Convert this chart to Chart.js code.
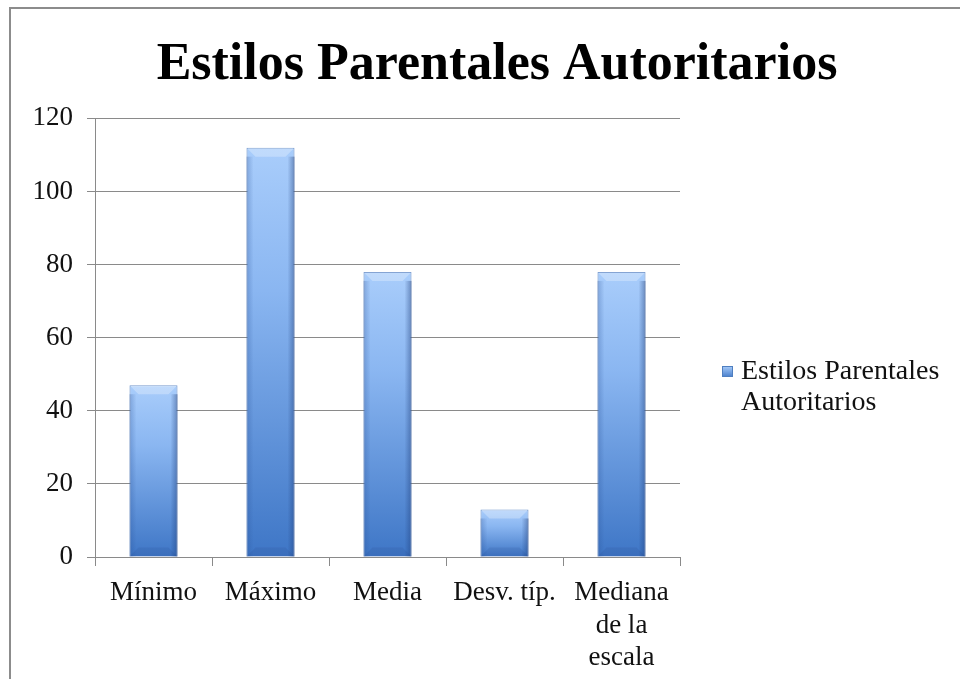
<!DOCTYPE html>
<html>
<head>
<meta charset="utf-8">
<script src="https://cdn.jsdelivr.net/npm/chart.js@4/dist/chart.umd.min.js"></script>
<style>
  html, body { margin: 0; padding: 0; background: #fff; overflow: hidden; }
  #frame { position: absolute; left: 9px; top: 7px; width: 1100px; height: 800px; border: 2px solid #8c8c8c; }
  #wrap { position: absolute; left: 0; top: 0; width: 960px; height: 679px; }
</style>
</head>
<body>
<div id="frame"></div>
<div id="wrap"><canvas id="graph" width="960" height="679"></canvas></div>
<script>
const categories = ['Mínimo', 'Máximo', 'Media', 'Desv. típ.', ['Mediana', 'de la', 'escala']];
const seriesName = 'Estilos Parentales Autoritarios';
const values = [47, 112, 78, 13, 78];
const yMin = 0, yMax = 120, yStep = 20;

const serif = "'Liberation Serif', 'DejaVu Serif', serif";
const gridColor = '#8a8a8a';

// vertical gradient for each bar, light on top, dark at the base
function barFill(ctx) {
    const chart = ctx.chart;
    if (!chart.chartArea || !chart.scales.y) return '#6f9fe0';
    const y = chart.scales.y;
    const top = y.getPixelForValue(values[ctx.dataIndex]);
    const bottom = y.getPixelForValue(0);
    const g = chart.ctx.createLinearGradient(0, top, 0, bottom);
    g.addColorStop(0, '#a9cdfb');
    g.addColorStop(0.35, '#8ab6f1');
    g.addColorStop(1, '#3e76c6');
    return g;
}

// bevel look: light top facet and darker sides
const bevel = {
    id: 'bevel',
    afterDatasetsDraw(chart) {
        const c = chart.ctx;
        chart.getDatasetMeta(0).data.forEach(bar => {
            const l = bar.x - bar.width / 2, r = bar.x + bar.width / 2;
            const t = bar.y, b = bar.base;
            const d = Math.min(9, (b - t) / 3);
            c.save();
            c.fillStyle = 'rgba(255,255,255,0.28)';
            c.beginPath();
            c.moveTo(l, t); c.lineTo(r, t); c.lineTo(r - d, t + d); c.lineTo(l + d, t + d);
            c.closePath(); c.fill();
            let gl = c.createLinearGradient(l, 0, l + 7, 0);
            gl.addColorStop(0, 'rgba(40,80,150,0.3)');
            gl.addColorStop(1, 'rgba(40,80,150,0)');
            c.fillStyle = gl;
            c.fillRect(l, t + d, 7, b - t - d);
            let gr = c.createLinearGradient(r - 7, 0, r, 0);
            gr.addColorStop(0, 'rgba(30,60,120,0)');
            gr.addColorStop(1, 'rgba(30,60,120,0.45)');
            c.fillStyle = gr;
            c.fillRect(r - 7, t + d, 7, b - t - d);
            c.fillStyle = 'rgba(30,60,120,0.12)';
            c.beginPath();
            c.moveTo(l, b); c.lineTo(r, b); c.lineTo(r - d, b - d); c.lineTo(l + d, b - d);
            c.closePath(); c.fill();
            c.restore();
        });
    }
};

// legend on the right, wrapped on two lines
const sideLegend = {
    id: 'sideLegend',
    afterDraw(chart) {
        const c = chart.ctx;
        const area = chart.chartArea;
        const words = chart.data.datasets[0].label.split(' ');
        const lines = [words.slice(0, 2).join(' '), words.slice(2).join(' ')];
        const x = area.right + 42;
        const y = area.bottom - 185;
        c.save();
        const g = c.createLinearGradient(0, y - 6, 0, y + 6);
        g.addColorStop(0, '#a9cdfb');
        g.addColorStop(1, '#3e76c6');
        c.fillStyle = g;
        c.fillRect(x, y - 6, 11, 11);
        c.strokeStyle = '#4f7fc0';
        c.lineWidth = 1;
        c.strokeRect(x + 0.5, y - 5.5, 10, 10);
        c.fillStyle = '#111';
        c.font = '28px ' + serif;
        c.textBaseline = 'middle';
        lines.forEach((s, i) => c.fillText(s, x + 19, y + i * 31));
        c.restore();
    }
};

const data = {
    labels: categories,
    datasets: [{
        label: seriesName,
        data: values,
        backgroundColor: barFill,
        borderColor: '#5682c2',
        borderWidth: 1,
        barPercentage: 0.41,
        categoryPercentage: 1
    }]
};

const config = {
    type: 'bar',
    data: data,
    options: {
        responsive: false,
        animation: false,
        layout: { padding: { left: 34, right: 0, top: 12, bottom: 0 } },
        plugins: {
            legend: { display: false },
            tooltip: { enabled: false },
            title: {
                display: true,
                text: seriesName,
                color: '#000',
                font: { family: serif, size: 52, weight: 'bold', lineHeight: 1.2 },
                padding: { top: 22, bottom: 22 }
            }
        },
        scales: {
            x: {
                grid: { drawOnChartArea: false, drawTicks: true, tickLength: 9, color: gridColor, offset: true },
                border: { color: gridColor },
                ticks: { color: '#111', padding: 11, maxRotation: 0, autoSkip: false,
                         font: { family: serif, size: 27, lineHeight: 1.2 } },
                afterFit: s => { s.height = 122; }
            },
            y: {
                min: yMin,
                max: yMax,
                grid: { color: gridColor, tickLength: 8 },
                border: { color: gridColor },
                ticks: { stepSize: yStep, color: '#111', padding: 14,
                         font: { family: serif, size: 27 } },
                afterFit: s => { s.width = 61; }
            },
            side: {
                position: 'right',
                grid: { drawOnChartArea: false, drawTicks: false },
                border: { display: false },
                ticks: { display: false },
                afterFit: s => { s.width = 280; }
            }
        }
    },
    plugins: [bevel, sideLegend]
};

const graph = document.querySelector('#graph');
new Chart(graph, config);
</script>
</body>
</html>
